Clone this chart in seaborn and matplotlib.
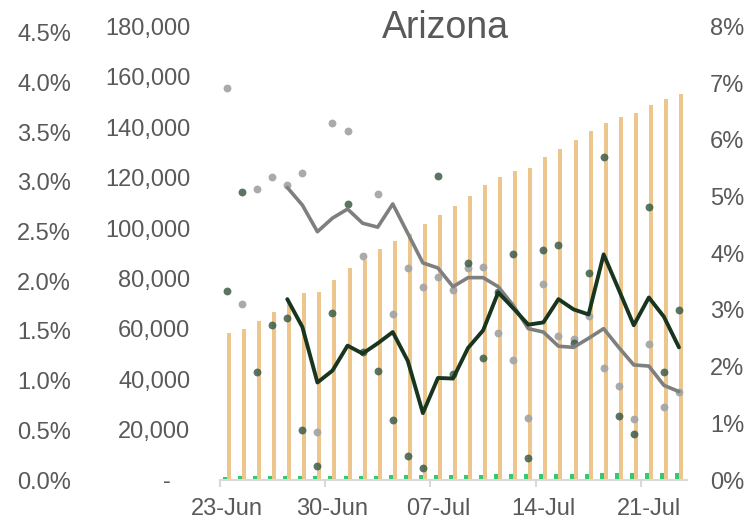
import numpy as np
import pandas as pd
import matplotlib
matplotlib.use('Agg')
import matplotlib.pyplot as plt
from matplotlib.ticker import FuncFormatter
import seaborn as sns

# --------------------------
# Data (23-Jun .. 23-Jul)
# --------------------------
date_labels = ['23-Jun', '30-Jun', '07-Jul', '14-Jul', '21-Jul']
label_days = [0, 7, 14, 21, 28]

# cumulative cases (left inner axis)
cases = [58300, 60000, 63300, 66600, 70300, 74200, 74600, 79500, 84100, 87400,
         91800, 94700, 97800, 101600, 105300, 108700, 112800, 117100, 120100, 122800,
         124000, 128300, 131500, 134800, 138700, 141500, 144000, 145600, 149000, 151100,
         153300]

# cumulative deaths (small green bars, left inner axis)
deaths = [1380, 1410, 1460, 1490, 1540, 1580, 1590, 1630, 1700, 1730,
          1760, 1800, 1810, 1830, 1940, 2040, 2080, 2150, 2190, 2250,
          2340, 2420, 2490, 2520, 2570, 2660, 2710, 2760, 2830, 2920,
          2970]

# daily growth dots (right axis, %)
gray_pts = [6.92, 3.10, 5.14, 5.34, 5.20, 5.41, 0.85, 6.29, 6.16, 3.96,
            5.05, 2.93, 3.74, 3.41, 3.58, 3.35, 3.74, 3.75, 2.60, 2.11,
            1.10, 3.45, 2.54, 2.48, 2.90, 1.98, 1.66, 1.08, 2.40, 1.29,
            1.55]
dark_pts = [3.33, 5.08, 1.90, 2.74, 2.86, 0.88, 0.24, 2.94, 4.86, 2.26,
            1.92, 1.05, 0.43, 0.21, 5.36, 1.87, 3.83, 2.16, 3.32, 3.99,
            0.39, 4.05, 4.15, 2.41, 3.65, 5.69, 1.13, 0.82, 4.81, 1.91,
            3.00]

# 5-day averages (start on day 4)
gray_avg = [5.16, 4.85, 4.38, 4.62, 4.78, 4.53, 4.46, 4.87, 4.35, 3.83,
            3.74, 3.41, 3.57, 3.57, 3.41, 3.08, 2.67, 2.61, 2.36, 2.34,
            2.50, 2.67, 2.34, 2.03, 2.01, 1.67, 1.56]
dark_avg = [3.19, 2.70, 1.72, 1.93, 2.37, 2.23, 2.41, 2.61, 2.10, 1.18,
            1.80, 1.79, 2.33, 2.64, 3.31, 3.03, 2.74, 2.78, 3.19, 3.01,
            2.92, 3.98, 3.36, 2.73, 3.22, 2.88, 2.34]

TAN = '#ECC68C'
GREEN = '#2FCB6E'
GRAY_DOT = '#A6A6A6'
DARK_DOT = '#3E5C48'
GRAY_LINE = '#7F7F7F'
DARK_LINE = '#18361F'
TEXT = '#595959'
AXIS = '#D9D9D9'
FS = 17

sns.set_theme(style='white')
plt.rcParams['font.family'] = ['Liberation Sans', 'DejaVu Sans']

days = np.arange(len(cases))
n = len(days)

fig = plt.figure(figsize=(7.49, 5.21), dpi=100)
ax = fig.add_axes([219.5 / 749, 1 - 480 / 521, 467 / 749, 453.5 / 521])

# bars: deaths + cases side by side
bar_df = pd.DataFrame({
    'day': np.concatenate([days, days]),
    'value': deaths + cases,
    'series': ['Deaths'] * n + ['Cases'] * n,
})
sns.barplot(data=bar_df, x='day', y='value', hue='series', hue_order=['Deaths', 'Cases'],
            palette=[GREEN, TAN], native_scale=True, width=0.53, dodge=True,
            saturation=1, errorbar=None, legend=False, linewidth=0, ax=ax)

ax.set_xlim(-0.5, 30.5)
ax.set_ylim(0, 180000)
ax.set_yticks(np.arange(0, 180001, 20000))
ax.yaxis.set_major_formatter(FuncFormatter(lambda v, p: '-   ' if v == 0 else f'{v:,.0f}'))
ax.tick_params(axis='y', length=0, pad=21, labelsize=FS, labelcolor=TEXT)
ax.set_xticks(label_days)
ax.set_xticklabels(date_labels)
ax.set_xticks([d - 0.5 for d in label_days], minor=True)
ax.tick_params(axis='x', which='major', length=0, pad=13, labelsize=FS, labelcolor=TEXT)
ax.tick_params(axis='x', which='minor', bottom=True, length=5, width=1.5, color=AXIS, direction='out')
ax.set_xlabel('')
ax.set_ylabel('')
for s in ['top', 'left', 'right']:
    ax.spines[s].set_visible(False)
ax.spines['bottom'].set_color(AXIS)
ax.spines['bottom'].set_linewidth(1.5)

# growth rates on the right axis
ax2 = ax.twinx()
sns.lineplot(x=days[4:], y=gray_avg, color=GRAY_LINE, linewidth=2.6, ax=ax2)
sns.lineplot(x=days[4:], y=dark_avg, color=DARK_LINE, linewidth=2.8, ax=ax2)
sns.scatterplot(x=days, y=gray_pts, color=GRAY_DOT, s=32, linewidth=0, alpha=0.95, ax=ax2)
sns.scatterplot(x=days, y=dark_pts, color=DARK_DOT, s=32, linewidth=0, alpha=0.85, ax=ax2)
ax2.set_ylim(0, 8)
ax2.set_yticks(np.arange(0, 9, 1))
ax2.yaxis.set_major_formatter(FuncFormatter(lambda v, p: f'{v:.0f}%'))
ax2.tick_params(axis='y', length=0, pad=17, labelsize=FS, labelcolor=TEXT)
ax2.set_ylabel('')
ax2.grid(False)
for s in ax2.spines.values():
    s.set_visible(False)

# outer left percentage axis
ax3 = ax.twinx()
ax3.set_ylim(0.02, 4.565)
ax3.set_yticks(np.arange(0, 4.51, 0.5))
ax3.yaxis.set_major_formatter(FuncFormatter(lambda v, p: f'{v:.1f}%'))
ax3.yaxis.tick_left()
ax3.tick_params(axis='y', length=0, pad=107, labelsize=FS, labelcolor=TEXT)
ax3.grid(False)
for s in ax3.spines.values():
    s.set_visible(False)

fig.text(445 / 749, 1 - 38 / 521, 'Arizona', ha='center', va='baseline',
         fontsize=27, color=TEXT)

fig.savefig('out.png', dpi=100)
